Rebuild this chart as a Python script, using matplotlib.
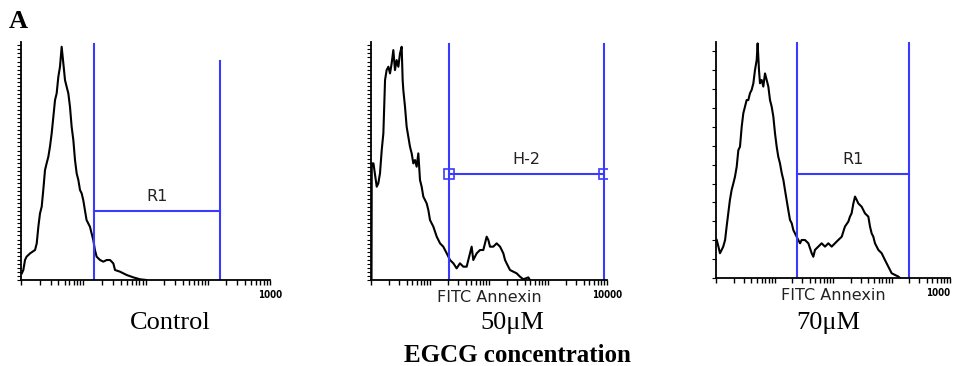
import matplotlib
matplotlib.use("Agg")
import matplotlib.pyplot as plt
from matplotlib.ticker import MultipleLocator, LogLocator, NullFormatter

# FITC Annexin histograms (intensity, counts as % of full scale)
ctrl_x = [1.03, 1.09, 1.16, 1.23, 1.40, 1.68, 1.79, 1.90, 2.02, 2.15, 2.28, 2.43,
          2.58, 2.75, 2.92, 3.11, 3.31, 3.52, 3.74, 3.98, 4.23, 4.50, 4.79, 5.09,
          5.41, 5.76, 6.12, 6.51, 6.93, 7.37, 7.84, 8.34, 8.87, 9.43, 10.0, 11.3,
          12.8, 14.5, 15.4, 16.4, 18.6, 21.0, 23.8, 26.9, 30.4, 32.4, 38.9, 49.9,
          63.8, 81.6, 104]
ctrl_y = [2.8, 4.2, 8.4, 9.8, 11.2, 12.6, 15.4, 22.4, 28.0, 30.8, 37.8, 46.2,
          49.0, 51.8, 56.0, 61.6, 68.6, 75.6, 78.4, 85.4, 89.6, 98.0, 91.0, 84.0,
          81.2, 78.4, 72.8, 64.4, 58.8, 50.4, 44.8, 42.0, 37.8, 36.4, 33.6, 25.2,
          22.4, 16.8, 12.6, 9.8, 8.4, 7.7, 8.4, 8.4, 7.0, 4.2, 3.5, 2.1,
          1.1, 0.3, 0.0]

egcg50_x = [1.02, 1.03, 1.10, 1.25, 1.33, 1.42, 1.52, 1.62, 1.73, 1.84, 1.97, 2.10, 2.24,
            2.39, 2.55, 2.72, 2.91, 3.10, 3.31, 3.44, 3.53, 3.77, 4.02, 4.29, 4.58,
            4.89, 5.22, 5.57, 5.94, 6.34, 6.77, 7.22, 7.71, 8.78, 9.37, 10.0, 11.4,
            13.0, 14.8, 16.8, 19.2, 20.5, 21.8, 24.9, 28.3, 32.2, 36.7, 41.8, 47.6,
            50.8, 54.2, 61.8, 70.4, 80.1, 91.3, 97.5, 104, 118, 135, 154, 175,
            187, 199, 227, 258, 294, 335, 382, 464, 495]
egcg50_y = [0.0, 49.0, 49.0, 39.2, 40.6, 44.8, 54.6, 61.6, 84.0, 88.2, 89.6, 86.8, 91.0,
            96.6, 88.2, 92.4, 89.6, 95.2, 98.0, 84.0, 79.8, 72.8, 64.4, 60.2, 56.0,
            53.2, 49.0, 50.4, 47.6, 53.2, 42.0, 39.2, 35.0, 32.2, 29.4, 25.2, 22.4,
            18.2, 15.4, 14.0, 11.2, 9.8, 8.4, 7.0, 4.9, 7.0, 5.6, 5.6, 11.2,
            14.0, 8.4, 11.2, 12.6, 12.6, 18.2, 16.8, 14.0, 14.0, 15.4, 14.0, 11.2,
            8.4, 7.0, 4.2, 3.5, 2.8, 1.4, 0.3, 1.1, 0.0]

egcg70_x = [1.03, 1.10, 1.17, 1.25, 1.33, 1.43, 1.52, 1.62, 1.73, 1.85, 1.98, 2.11,
            2.26, 2.41, 2.57, 2.75, 2.93, 3.13, 3.34, 3.57, 3.81, 4.07, 4.35, 4.64,
            4.96, 5.15, 5.43, 5.65, 6.04, 6.44, 6.88, 7.35, 7.85, 8.38, 8.95, 9.55,
            10.2, 10.9, 11.6, 12.4, 13.3, 14.2, 15.1, 16.1, 17.2, 18.4, 19.7, 21.0,
            22.4, 23.9, 25.5, 27.3, 29.1, 33.2, 37.9, 43.2, 46.1, 49.2, 56.1, 64.0,
            73.0, 83.2, 94.9, 108, 123, 141, 160, 183, 195, 208, 223, 238,
            254, 271, 309, 352, 402, 429, 458, 489, 522, 596, 679, 774,
            883, 1007, 1148, 1309, 1397]
egcg70_y = [16.1, 13.3, 10.5, 11.9, 13.3, 16.1, 21.8, 27.4, 33.1, 37.3, 40.1, 42.9,
            47.2, 54.2, 55.6, 64.1, 69.8, 72.6, 75.4, 75.4, 78.3, 79.7, 82.5, 88.1,
            92.4, 99.4, 88.1, 82.5, 83.9, 81.1, 86.7, 83.9, 81.1, 75.4, 72.6, 68.4,
            61.3, 55.6, 51.4, 48.6, 44.4, 41.5, 37.3, 33.1, 28.8, 24.6, 23.2, 20.3,
            18.9, 17.5, 16.1, 14.7, 16.1, 16.1, 14.7, 10.5, 9.0, 11.9, 13.3, 14.7,
            13.3, 14.7, 13.3, 14.7, 16.1, 17.5, 21.8, 23.9, 26.0, 27.4, 31.6, 34.5,
            33.1, 31.6, 30.2, 27.4, 26.0, 21.8, 18.9, 17.5, 14.7, 11.9, 10.5, 7.6,
            4.8, 2.0, 1.3, 0.6, 0.0]

# gate markers: (left, right, bar height, label)
gates = [(14.9, 1574, 29.0, "R1"), (21.0, 8890, 44.5, "H-2"), (24.2, 1991, 44.1, "R1")]
gate_tops = [(99.2, 92.0), (99.2, 99.2), (99.6, 99.6)]
conditions = ["Control", "50\u03bcM", "70\u03bcM"]
end_labels = ["1000", "10000", "1000"]

BLUE = "#3a3aff"
W, H = 955, 366
fig = plt.figure(figsize=(W / 100, H / 100), dpi=100)

boxes = [(21, 280, 249, 238), (371, 280, 236, 238), (716, 278, 234, 236)]
data = [(ctrl_x, ctrl_y), (egcg50_x, egcg50_y), (egcg70_x, egcg70_y)]
label_cx = [170, 512, 828]

for i, ((l, b, w, h), (xs, ys)) in enumerate(zip(boxes, data)):
    ax = fig.add_axes([l / W, (H - b) / H, w / W, h / H])
    ax.plot(xs, ys, color="black", lw=1.5)
    ax.set_xscale("log")
    ax.set_xlim(1, 10000)
    ax.set_ylim(0, 100)
    for s in ["top", "right"]:
        ax.spines[s].set_visible(False)
    ax.spines["left"].set_linewidth(1.3)
    ax.spines["bottom"].set_linewidth(1.3)
    ax.xaxis.set_major_locator(LogLocator(base=10))
    ax.xaxis.set_minor_locator(LogLocator(base=10, subs=range(2, 10)))
    ax.xaxis.set_major_formatter(NullFormatter())
    ax.xaxis.set_minor_formatter(NullFormatter())
    ax.tick_params(axis="x", which="both", direction="out", length=3.5, width=1)
    ax.yaxis.set_major_locator(MultipleLocator(8 if i == 2 else 1.7))
    ax.yaxis.set_major_formatter(NullFormatter())
    ax.tick_params(axis="y", direction="out", length=3, width=0.8)

    g1, g2, gy, gname = gates[i]
    t1, t2 = gate_tops[i]
    ax.plot([g1, g1], [0, t1], color=BLUE, lw=1.5)
    ax.plot([g2, g2], [0, t2], color=BLUE, lw=1.5)
    ax.plot([g1, g2], [gy, gy], color=BLUE, lw=1.5)
    if i == 1:
        ax.plot([g1, g2], [gy, gy], ls="none", marker="s", ms=6.5,
                mfc="none", mec=BLUE, mew=1.2)
    ax.text((g1 * g2) ** 0.5, gy + 6, gname, ha="center", va="center",
            fontsize=11.5, color="#222222", family="DejaVu Sans")
    if i > 0:
        ax.text(0.5, -17 / h, "FITC Annexin", transform=ax.transAxes,
                ha="center", va="center", fontsize=11.5, color="#222222",
                family="DejaVu Sans")
    ax.text(1.0, -15 / h, end_labels[i], transform=ax.transAxes,
            ha="right" if i == 2 else "center", va="center", fontsize=7,
            fontweight="bold", family="DejaVu Sans", fontstretch="condensed")

    fig.text(label_cx[i] / W, 1 - 323 / H, conditions[i], ha="center",
             va="center", fontsize=19, family="Liberation Serif")

fig.text(517 / W, 1 - 356 / H, "EGCG concentration", ha="center", va="center",
         fontsize=18, fontweight="bold", family="Liberation Serif")
fig.text(18 / W, 1 - 22 / H, "A", ha="center", va="center",
         fontsize=19, fontweight="bold", family="Liberation Serif")

fig.savefig("out.png", dpi=100)
